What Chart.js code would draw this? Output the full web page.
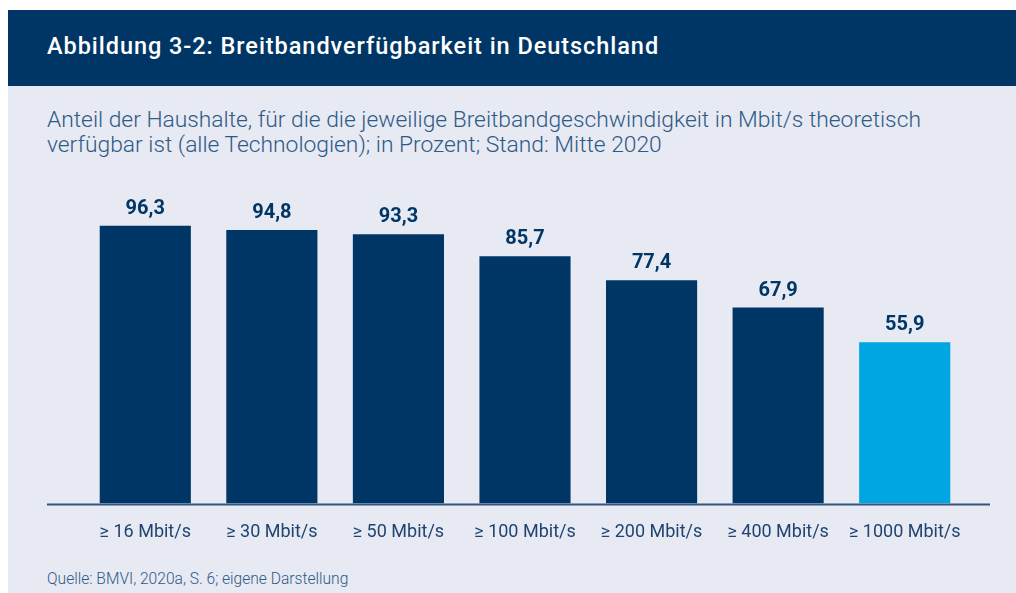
<!DOCTYPE html>
<html>
<head>
<meta charset="utf-8">
<script src="https://cdn.jsdelivr.net/npm/chart.js@4"></script>
<style>
  body { margin: 0; background: #ffffff; font-family: Roboto, "Noto Sans", sans-serif; }
  #panel { position: absolute; left: 8px; top: 10px; width: 1008px; height: 583px; background: #e7e9f3; }
  #header { position: absolute; left: 0; top: 0; width: 1008px; height: 76px; background: #003665; }
  #title { position: absolute; left: 39px; top: 22px; color: #ffffff; font-size: 23.5px; font-weight: 500; letter-spacing: 0.95px; }
  #subtitle { position: absolute; left: 39px; top: 97px; color: #2e5a86; font-size: 22.8px; font-weight: 300; line-height: 25px; }
  #source { position: absolute; left: 39px; top: 560px; color: #2e5a86; font-size: 15.6px; font-weight: 300; }
  #chartBox { position: absolute; left: 0; top: 0; width: 1016px; height: 593px; }
</style>
</head>
<body>
<div id="panel">
  <div id="header"><div id="title">Abbildung 3-2: Breitbandverfügbarkeit in Deutschland</div></div>
  <div id="subtitle">Anteil der Haushalte, für die die jeweilige Breitbandgeschwindigkeit in Mbit/s theoretisch<br>verfügbar ist (alle Technologien); in Prozent; Stand: Mitte 2020</div>
  <div id="source">Quelle: BMVI, 2020a, S. 6; eigene Darstellung</div>
</div>
<div id="chartBox"><canvas id="grafico"></canvas></div>
<script>
const categorias = ["≥ 16 Mbit/s", "≥ 30 Mbit/s", "≥ 50 Mbit/s", "≥ 100 Mbit/s", "≥ 200 Mbit/s", "≥ 400 Mbit/s", "≥ 1000 Mbit/s"];
const valores = [96.3, 94.8, 93.3, 85.7, 77.4, 67.9, 55.9];
const colores = ["#003665", "#003665", "#003665", "#003665", "#003665", "#003665", "#00a6e2"];

// linea del eje, un poco mas ancha que las barras
const lineaEje = {
  id: "lineaEje",
  afterDatasetsDraw(chart) {
    const { ctx, chartArea, scales } = chart;
    const y = scales.y.getPixelForValue(0);
    ctx.save();
    ctx.strokeStyle = "#34577f";
    ctx.lineWidth = 2;
    ctx.beginPath();
    ctx.moveTo(chartArea.left - 35, y + 1);
    ctx.lineTo(chartArea.right + 22, y + 1);
    ctx.stroke();
    ctx.restore();
  },
};

// etiquetas de valor encima de cada barra
const etiquetas = {
  id: "etiquetas",
  afterDatasetsDraw(chart) {
    const { ctx } = chart;
    const meta = chart.getDatasetMeta(0);
    ctx.save();
    ctx.fillStyle = "#003665";
    ctx.font = "bold 20px Roboto";
    ctx.textAlign = "center";
    ctx.textBaseline = "bottom";
    meta.data.forEach((bar, i) => {
      ctx.fillText(valores[i].toFixed(1).replace(".", ","), bar.x, bar.y - 7);
    });
    ctx.restore();
  },
};

const ctx = document.getElementById("grafico").getContext("2d");
new Chart(ctx, {
  type: "bar",
  data: {
    labels: categorias,
    datasets: [{
      data: valores,
      backgroundColor: colores,
      barPercentage: 0.72,
      categoryPercentage: 1,
    }],
  },
  options: {
    responsive: true,
    maintainAspectRatio: false,
    animation: false,
    layout: { padding: { left: 82, right: 48, top: 215, bottom: 32 } },
    plugins: { legend: { display: false }, tooltip: { enabled: false } },
    scales: {
      x: {
        grid: { display: false, drawTicks: false },
        border: { display: false },
        ticks: { color: "#1f4470", font: { family: "Roboto", size: 18 }, padding: 18, maxRotation: 0 },
      },
      y: { display: false, min: 0, max: 100 },
    },
  },
  plugins: [lineaEje, etiquetas],
});
</script>
</body>
</html>
